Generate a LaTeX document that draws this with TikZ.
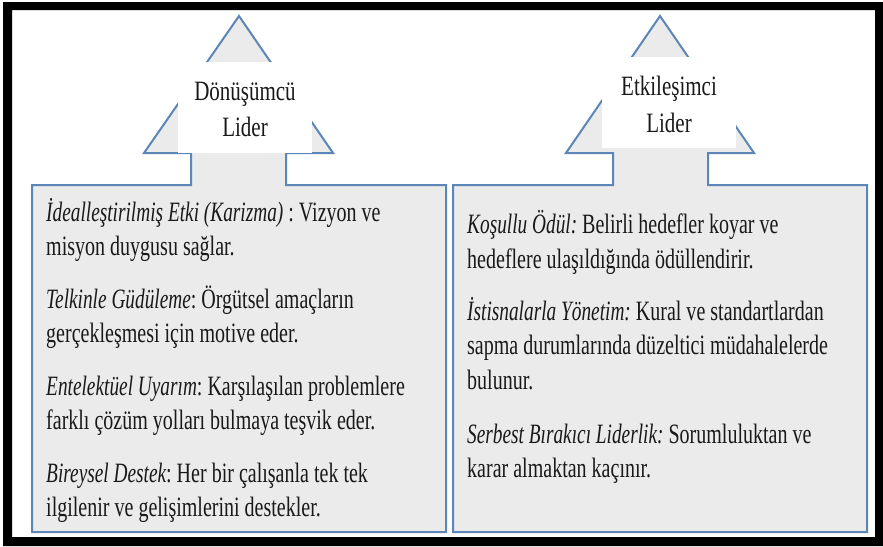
\documentclass[tikz,border=0pt]{standalone}
\usepackage{fontspec}
\setmainfont{Liberation Serif}[FakeStretch=0.715,ItalicFeatures={FakeStretch=0.69}]
\newfontfamily\labelfont{Liberation Serif}[FakeStretch=0.75]
\definecolor{calloutblue}{RGB}{91,134,183}
\definecolor{calloutgrey}{RGB}{235,235,235}
\definecolor{inktext}{RGB}{25,25,25}
\newcommand{\term}[1]{{\itshape #1}}
\frenchspacing

\begin{document}
\begin{tikzpicture}[x=1pt,y=-1pt,
  callout/.style={draw=calloutblue,fill=calloutgrey,line width=2pt,line join=miter},
  labelbox/.style={fill=white,inner sep=0pt,minimum width=134pt,minimum height=91pt},
  bodyline/.style={anchor=base west,inner sep=0pt,text=inktext,font=\fontsize{28}{34}\selectfont},
  headline/.style={anchor=base,inner sep=0pt,text=inktext,font=\labelfont\fontsize{28}{34}\selectfont}]

\useasboundingbox (0,0) rectangle (883,546);
\fill[white] (0,0) rectangle (883,546);
% heavy black frame
\fill[black,even odd rule] (3,2) rectangle (883,546) (12,10) rectangle (875,537);

% up-arrow callouts
\draw[callout] (239,16) -- (333,153) -- (286,153) -- (286,185) -- (446,185)
  -- (446,532) -- (32,532) -- (32,185) -- (191,185) -- (191,153) -- (144,153) -- cycle;
\draw[callout] (660,16) -- (754,153) -- (708,153) -- (708,185) -- (867,185)
  -- (867,532) -- (453,532) -- (453,185) -- (613,185) -- (613,153) -- (566,153) -- cycle;

% title boxes
\node[labelbox] (dbox) at (245,107.5) {};
\node[labelbox] (ebox) at (669,102.5) {};
\node[headline] (dname1) at (245,100) {Dönüşümcü};
\node[headline] (dname2) at (245,136) {Lider};
\node[headline] (ename1) at (669,95) {Etkileşimci};
\node[headline] (ename2) at (669,132) {Lider};

% transformational leadership
\node[bodyline] (d1a) at (46,221) {\term{İdealleştirilmiş Etki (Karizma)} : Vizyon ve};
\node[bodyline] (d1b) at (46,255) {misyon duygusu sağlar.};
\node[bodyline] (d2a) at (46,308) {\term{Telkinle Güdüleme}: Örgütsel amaçların};
\node[bodyline] (d2b) at (46,342) {gerçekleşmesi için motive eder.};
\node[bodyline] (d3a) at (46,395) {\term{Entelektüel Uyarım}: Karşılaşılan problemlere};
\node[bodyline] (d3b) at (46,429) {farklı çözüm yolları bulmaya teşvik eder.};
\node[bodyline] (d4a) at (46,482) {\term{Bireysel Destek}: Her bir çalışanla tek tek};
\node[bodyline] (d4b) at (46,516) {ilgilenir ve gelişimlerini destekler.};

% transactional leadership
\node[bodyline] (e1a) at (467,233) {\term{Koşullu Ödül:} Belirli hedefler koyar ve};
\node[bodyline] (e1b) at (467,268) {hedeflere ulaşıldığında ödüllendirir.};
\node[bodyline] (e2a) at (467,320) {\term{İstisnalarla Yönetim:} Kural ve standartlardan};
\node[bodyline] (e2b) at (467,354) {sapma durumlarında düzeltici müdahalelerde};
\node[bodyline] (e2c) at (467,389) {bulunur.};
\node[bodyline] (e3a) at (467,443) {\term{Serbest Bırakıcı Liderlik:} Sorumluluktan ve};
\node[bodyline] (e3b) at (467,477) {karar almaktan kaçınır.};
\end{tikzpicture}
\end{document}
